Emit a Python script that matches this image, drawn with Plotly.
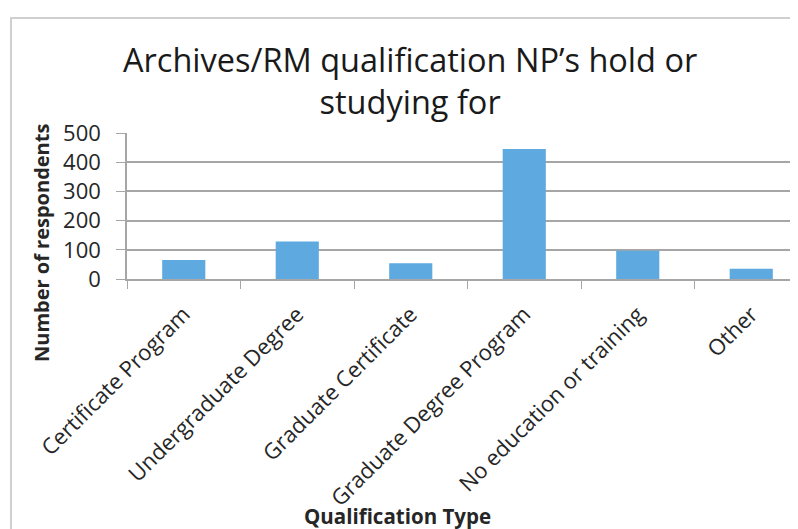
import plotly.graph_objects as go

categories = ["Certificate Program", "Undergraduate Degree", "Graduate Certificate",
              "Graduate Degree Program", "No education or training", "Other"]
respondents = [65, 128, 54, 445, 97, 35]
y_ticks = [0, 100, 200, 300, 400, 500]

# page body has an 8px default margin; work in figure coords = screen - 8
OFF = 8
W, H = 798 - OFF, 529 - OFF
L, R_EDGE, TOP, BOT = 127 - OFF, 798 - OFF, 133 - OFF, 279 - OFF
CAT_W = 113.5
PW = R_EDGE - L
PH = BOT - TOP

def px(x):
    return (x - OFF - L) / PW

def py(y):
    return (BOT - (y - OFF)) / PH

FONT = "Open Sans"
TXT = "#262626"
GRID = "#a6a6a6"

fig = go.Figure(go.Bar(
    x=categories, y=respondents, width=0.38,
    marker=dict(color="#5DA9E0", line=dict(width=0)),
))

fig.update_layout(
    width=W, height=H,
    margin=dict(l=L, r=W - R_EDGE, t=TOP, b=H - BOT, pad=0, autoexpand=False),
    paper_bgcolor="white", plot_bgcolor="white",
    showlegend=False,
    font=dict(family=FONT, color=TXT),
    xaxis=dict(
        type="category", automargin=False,
        range=[-0.5, -0.5 + PW / CAT_W],
        showline=True, linecolor=GRID, linewidth=1.5,
        ticks="outside", tickson="boundaries", ticklen=8, tickcolor=GRID, tickwidth=1.2,
        tickangle=-45, tickfont=dict(size=22, family=FONT, color=TXT),
        ticklabelstandoff=12,
        showgrid=False, zeroline=False,
    ),
    yaxis=dict(
        automargin=False,
        range=[0, 500], tickvals=y_ticks,
        showline=True, linecolor=GRID, linewidth=1.5,
        ticks="outside", ticklen=9, tickcolor=GRID, tickwidth=1.2,
        tickfont=dict(size=22, family=FONT, color=TXT),
        ticklabelstandoff=11,
        showgrid=True, gridcolor=GRID, gridwidth=1.5,
        zeroline=False,
    ),
    shapes=[dict(type="rect", xref="paper", yref="paper",
                 x0=px(11), x1=px(830), y0=py(18), y1=py(580),
                 line=dict(color="#d0d0d0", width=2), fillcolor="rgba(0,0,0,0)", layer="below")],
    annotations=[
        dict(text="Archives/RM qualification NP’s hold or<br>studying for",
             xref="paper", yref="paper", x=px(410), y=py(80), xanchor="center", yanchor="middle",
             showarrow=False, font=dict(size=32.5, family=FONT, color="#1a1a1a")),
        dict(text="<b>Number of respondents</b>", textangle=-90,
             xref="paper", yref="paper", x=px(41), y=py(243), xanchor="center", yanchor="middle",
             showarrow=False, font=dict(size=20, family=FONT, color=TXT)),
        dict(text="<b>Qualification Type</b>",
             xref="paper", yref="paper", x=px(397), y=py(516), xanchor="center", yanchor="middle",
             showarrow=False, font=dict(size=20.5, family=FONT, color=TXT)),
    ],
)

fig.write_html("out.html")
